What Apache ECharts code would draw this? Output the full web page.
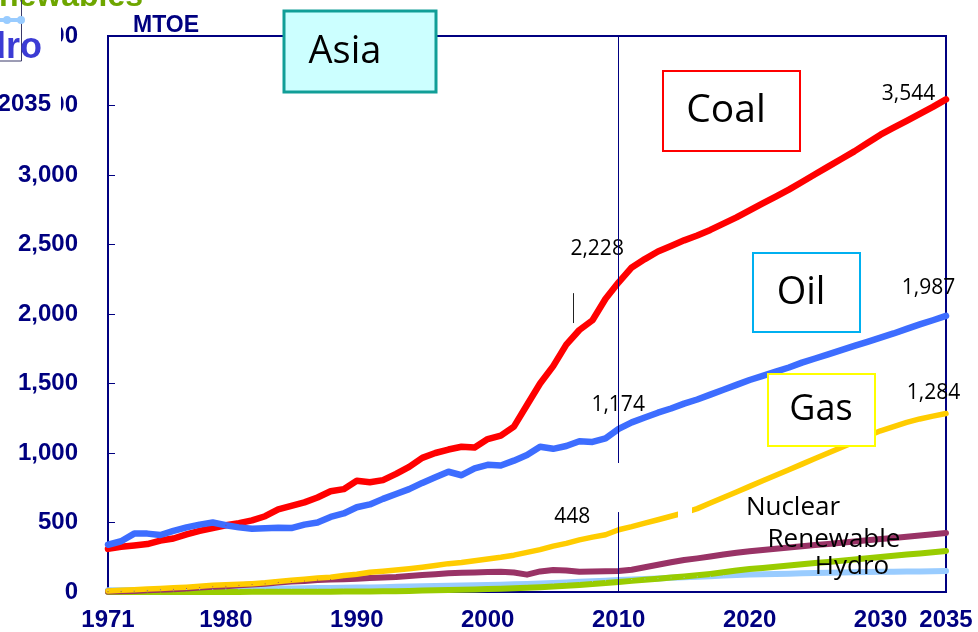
<!DOCTYPE html>
<html>
<head>
<meta charset="utf-8">
<script src="https://cdn.jsdelivr.net/npm/echarts@6/dist/echarts.min.js"></script>
<style>
  html, body { margin: 0; padding: 0; background: #ffffff; }
  #chart { width: 978px; height: 632px; }
</style>
</head>
<body>
<div id="chart"></div>
<script>
// Asia primary energy demand by fuel, 1971-2035 (MTOE)
const startYear = 1971;
const endYear = 2035;
const years = [];
for (let y = startYear; y <= endYear; y++) years.push(y);

const xTickYears = [1971, 1980, 1990, 2000, 2010, 2020, 2030, 2035];

const coal = [
  310, 325, 335, 345, 370, 385, 415, 440, 460, 480,
  495, 515, 545, 595, 620, 645, 680, 725, 740, 800,
  790, 805, 850, 900, 965, 1000, 1025, 1045, 1040, 1100,
  1125, 1190, 1345, 1500, 1625, 1780, 1885, 1955, 2110, 2228,
  2335, 2395, 2450, 2490, 2530, 2565, 2605, 2650, 2695, 2745,
  2795, 2845, 2895, 2950, 3005, 3060, 3115, 3170, 3230, 3290,
  3340, 3390, 3440, 3490, 3544
];
const oil = [
  340, 365, 420, 420, 410, 440, 465, 485, 500, 480,
  465, 455, 458, 462, 460, 485, 500, 540, 565, 610,
  630, 670, 705, 740, 785, 825, 865, 840, 890, 915,
  910, 945, 985, 1045, 1030, 1050, 1085, 1080, 1105, 1174,
  1220, 1255, 1290, 1320, 1355, 1385, 1420, 1455, 1490, 1525,
  1555, 1585, 1615, 1650, 1680, 1710, 1740, 1770, 1800, 1830,
  1860, 1893, 1925, 1955, 1987
];
const gas = [
  8, 12, 17, 22, 26, 30, 35, 42, 48, 52,
  56, 60, 66, 76, 84, 92, 100, 106, 118, 128,
  142, 150, 158, 168, 178, 190, 204, 212, 225, 238,
  250, 265, 285, 305, 330, 350, 375, 395, 412, 448,
  470, 495, 520, 545, 570, 600, 640, 680, 720, 760,
  800, 840, 880, 920, 960, 1000, 1040, 1080, 1120, 1160,
  1190, 1220, 1245, 1265, 1284
];
const nuclear = [
  3, 5, 8, 12, 16, 20, 25, 32, 38, 42,
  48, 54, 60, 68, 76, 80, 86, 90, 92, 96,
  100, 104, 108, 115, 122, 128, 135, 138, 140, 143,
  145, 140, 125, 148, 158, 155, 145, 147, 150, 151,
  160, 178, 196, 214, 230, 242, 255, 270, 282, 293,
  302, 311, 320, 329, 338, 346, 355, 364, 372, 381,
  389, 398, 406, 415, 424
];
const renewable = [
  0, 0, 0, 0, 0, 0, 0, 0, 0, 0,
  0, 1, 1, 1, 1, 2, 2, 2, 3, 3,
  4, 5, 6, 8, 10, 12, 14, 16, 18, 21,
  24, 27, 31, 35, 40, 45, 51, 57, 64, 72,
  80, 88, 96, 104, 111, 120, 130, 142, 155, 165,
  173, 182, 190, 199, 208, 216, 225, 234, 243, 251,
  260, 269, 277, 286, 295
];
const hydro = [
  12, 13, 14, 15, 16, 17, 18, 19, 20, 21,
  22, 23, 24, 25, 26, 27, 28, 29, 30, 32,
  33, 35, 37, 39, 41, 43, 45, 47, 49, 51,
  53, 55, 58, 61, 65, 69, 73, 77, 81, 86,
  90, 94, 98, 102, 106, 110, 114, 118, 122, 125,
  128, 130, 132, 134, 136, 138, 140, 142, 143, 145,
  146, 147, 148, 150, 151
];

const NAVY = '#000080';
const AXIS_FONT = '"Liberation Sans", Arial, sans-serif';
const TEXT_FONT = '"Open Sans", "Noto Sans", sans-serif';

// value labels: year -> label offset from the point
function buildData(values, labelled) {
  return years.map((yr, i) => {
    const item = { value: [yr, values[i]] };
    if (labelled[yr]) {
      item.label = {
        show: true,
        position: labelled[yr],
        align: 'center',
        verticalAlign: 'middle',
        color: '#000',
        fontFamily: TEXT_FONT,
        fontSize: 21,
        formatter: p => p.value[1].toLocaleString('en-US')
      };
    }
    return item;
  });
}

function lineSeries(name, values, color, width, labelled, extra) {
  return Object.assign({
    name: name,
    type: 'line',
    data: buildData(values, labelled || {}),
    symbol: 'circle',
    symbolSize: 1,
    showSymbol: true,
    clip: false,
    itemStyle: { color: color },
    lineStyle: { color: color, width: width, join: 'round', cap: 'round' },
    label: { show: false },
    emphasis: { disabled: true },
    silent: true
  }, extra || {});
}

const chart = echarts.init(document.getElementById('chart'), null, { renderer: 'canvas' });

const option = {
  animation: false,
  backgroundColor: '#ffffff',
  grid: {
    left: 108, right: 32, top: 36, bottom: 40,
    show: true,
    borderColor: NAVY,
    borderWidth: 2,
    backgroundColor: 'transparent'
  },
  xAxis: {
    type: 'value',
    min: startYear,
    max: endYear,
    axisLine: { show: false },
    axisTick: { show: false },
    splitLine: { show: false },
    axisLabel: {
      customValues: xTickYears,
      formatter: v => String(v),
      color: NAVY,
      fontFamily: AXIS_FONT,
      fontWeight: 'bold',
      fontSize: 24,
      margin: 16
    }
  },
  yAxis: {
    type: 'value',
    min: 0,
    max: 4000,
    interval: 500,
    axisLine: { show: false },
    axisTick: { show: true, inside: true, length: 7, lineStyle: { color: NAVY, width: 1 } },
    splitLine: { show: false },
    axisLabel: {
      formatter: v => v.toLocaleString('en-US'),
      color: NAVY,
      fontFamily: AXIS_FONT,
      fontWeight: 'bold',
      fontSize: 24,
      margin: 30
    }
  },
  series: [
    lineSeries('Hydro', hydro, '#99ccff', 6, null, {
      markLine: {
        silent: true,
        symbol: 'none',
        label: { show: false },
        lineStyle: { color: NAVY, width: 1, type: 'solid' },
        data: [
          [{ coord: [2010, 0] }, { coord: [2010, 575] }],
          [{ coord: [2010, 928] }, { coord: [2010, 4000] }],
          [{ coord: [2006.5, 1935], lineStyle: { color: '#222' } }, { coord: [2006.5, 2150] }]
        ]
      }
    }),
    lineSeries('Renewable', renewable, '#99cc00', 6),
    lineSeries('Nuclear', nuclear, '#993366', 6),
    lineSeries('Gas', gas, '#ffcc00', 5.5, { 2010: [-46, -12], 2035: [-12, -20] }),
    lineSeries('Coal', coal, '#ff0000', 6.5, { 2010: [-21, -33], 2035: [-37, -5] }),
    lineSeries('Oil', oil, '#3d6dff', 6.5, { 2010: [0, -23], 2035: [-17, -27] })
  ],
  graphic: [
    // unit
    { type: 'text', z: 100, left: 133, top: 14,
      style: { text: 'MTOE', fill: NAVY, font: 'bold 23px ' + AXIS_FONT } },

    // small gap in the gas line
    { type: 'rect', z: 90, shape: { x: 678, y: 499, width: 14, height: 20 },
      style: { fill: '#ffffff' } },

    // remnant legend in the top-left corner
    { type: 'rect', z: 100, shape: { x: 0, y: 16, width: 61, height: 106 },
      style: { fill: '#ffffff' } },
    { type: 'text', z: 101, x: 143, y: 13,
      style: { text: 'Renewables', fill: '#6ea600', font: 'bold 32px ' + AXIS_FONT,
               textAlign: 'right', textVerticalAlign: 'bottom' } },
    { type: 'polyline', z: 101, shape: { points: [[21.5, 0], [21.5, 61], [0, 61]] },
      style: { stroke: '#3a3a6a', lineWidth: 1, fill: null } },
    { type: 'line', z: 102, shape: { x1: 0, y1: 20, x2: 22, y2: 20 },
      style: { stroke: '#99ccff', lineWidth: 4 } },
    { type: 'circle', z: 102, shape: { cx: 7, cy: 20, r: 4 }, style: { fill: '#99ccff' } },
    { type: 'circle', z: 102, shape: { cx: 21, cy: 20, r: 4 }, style: { fill: '#99ccff' } },
    { type: 'text', z: 102, x: 42, y: 66,
      style: { text: 'Hydro', fill: '#3b3bd4', font: 'bold 36px ' + AXIS_FONT,
               textAlign: 'right', textVerticalAlign: 'bottom' } },
    { type: 'text', z: 102, x: 51, y: 104,
      style: { text: '2035', fill: NAVY, font: 'bold 24px ' + AXIS_FONT,
               textAlign: 'right', textVerticalAlign: 'middle' } },

    // region box
    { type: 'rect', z: 100, shape: { x: 284, y: 11, width: 152, height: 81 },
      style: { fill: '#ccffff', stroke: '#119e97', lineWidth: 3 } },
    { type: 'text', z: 101, x: 345, y: 52,
      style: { text: 'Asia', fill: '#000', font: '38px ' + TEXT_FONT,
               textAlign: 'center', textVerticalAlign: 'middle' } },

    // fuel name boxes
    { type: 'rect', z: 100, shape: { x: 663, y: 71, width: 137, height: 80 },
      style: { fill: '#ffffff', stroke: '#ff0000', lineWidth: 2 } },
    { type: 'text', z: 101, x: 726, y: 111,
      style: { text: 'Coal', fill: '#000', font: '39px ' + TEXT_FONT,
               textAlign: 'center', textVerticalAlign: 'middle' } },
    { type: 'rect', z: 100, shape: { x: 753, y: 253, width: 107, height: 79 },
      style: { fill: '#ffffff', stroke: '#00b0f0', lineWidth: 2 } },
    { type: 'text', z: 101, x: 801, y: 293,
      style: { text: 'Oil', fill: '#000', font: '38px ' + TEXT_FONT,
               textAlign: 'center', textVerticalAlign: 'middle' } },
    { type: 'rect', z: 100, shape: { x: 768, y: 374, width: 107, height: 72 },
      style: { fill: '#ffffff', stroke: '#ffff00', lineWidth: 2 } },
    { type: 'text', z: 101, x: 821, y: 410,
      style: { text: 'Gas', fill: '#000', font: '36px ' + TEXT_FONT,
               textAlign: 'center', textVerticalAlign: 'middle' } },

    // names for the lower lines
    { type: 'text', z: 101, x: 793, y: 508,
      style: { text: 'Nuclear', fill: '#000', font: '26px ' + TEXT_FONT,
               textAlign: 'center', textVerticalAlign: 'middle' } },
    { type: 'text', z: 101, x: 834, y: 540,
      style: { text: 'Renewable', fill: '#000', font: '26px ' + TEXT_FONT,
               textAlign: 'center', textVerticalAlign: 'middle' } },
    { type: 'text', z: 101, x: 852, y: 567,
      style: { text: 'Hydro', fill: '#000', font: '26px ' + TEXT_FONT,
               textAlign: 'center', textVerticalAlign: 'middle' } }
  ]
};

chart.setOption(option);
</script>
</body>
</html>
